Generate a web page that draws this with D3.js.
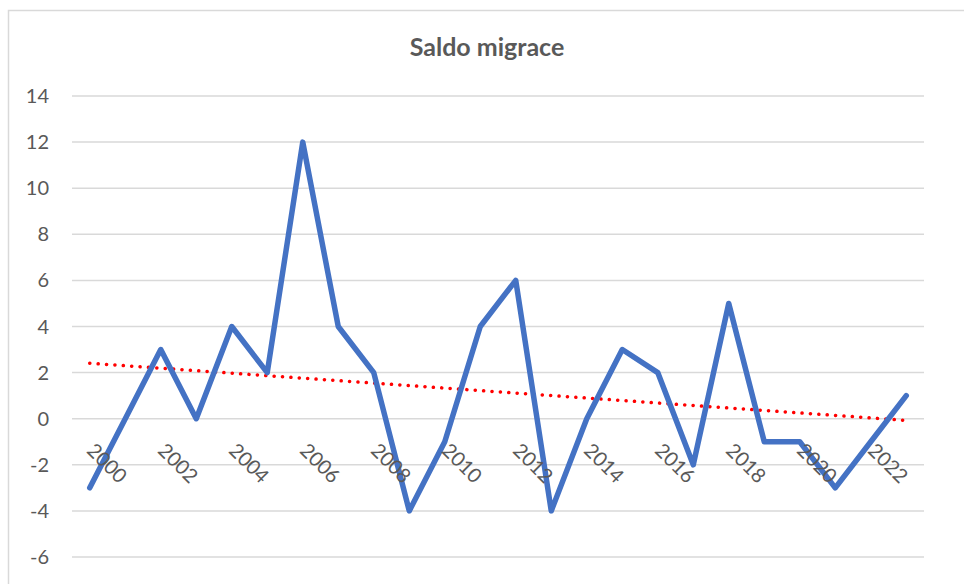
<!DOCTYPE html>
<html>
<head>
<meta charset="utf-8">
<script src="https://cdn.jsdelivr.net/npm/d3@7"></script>
<style>
  body { margin: 0; background: #fff; }
  text { font-family: Lato, "Open Sans", sans-serif; }
</style>
</head>
<body>
<div id="chart"></div>
<script>
// data
var years = d3.range(2000, 2024);
var saldo = [-3, 0, 3, 0, 4, 2, 12, 4, 2, -4, -1, 4, 6, -4, 0, 3, 2, -2, 5, -1, -1, -3, -1, 1];
var yTicks = [-6, -4, -2, 0, 2, 4, 6, 8, 10, 12, 14];
var xLabels = [2000, 2002, 2004, 2006, 2008, 2010, 2012, 2014, 2016, 2018, 2020, 2022];

var width = 964,
    height = 584;

var svg = d3.select("#chart")
  .append("svg")
    .attr("width", width)
    .attr("height", height);

// chart frame
svg.append("rect")
  .attr("x", 8.5).attr("y", 10.5)
  .attr("width", 960).attr("height", 580)
  .attr("fill", "none")
  .attr("stroke", "#d9d9d9")
  .attr("stroke-width", 1.5);

// title
svg.append("text")
  .attr("x", 487).attr("y", 56)
  .attr("text-anchor", "middle")
  .attr("font-size", 25)
  .attr("font-weight", "bold")
  .attr("fill", "#595959")
  .text("Saldo migrace");

// scales
var x = d3.scaleBand()
  .domain(years)
  .range([72, 924]);

var y = d3.scaleLinear()
  .domain([-6, 14])
  .range([557, 96]);

var cx = function(d) { return x(d) + x.bandwidth() / 2; };

// gridlines
svg.append("g").selectAll("line")
    .data(yTicks)
  .enter().append("line")
    .attr("x1", 72).attr("x2", 924)
    .attr("y1", function(d) { return y(d); })
    .attr("y2", function(d) { return y(d); })
    .attr("stroke", "#d9d9d9")
    .attr("stroke-width", 1.5);

// y labels
svg.append("g").selectAll("text")
    .data(yTicks)
  .enter().append("text")
    .attr("x", 49)
    .attr("y", function(d) { return y(d) + 7; })
    .attr("text-anchor", "end")
    .attr("font-size", 20)
    .attr("fill", "#595959")
    .text(function(d) { return d; });

// trendline (least squares)
var n = saldo.length;
var mx = d3.mean(d3.range(n)), my = d3.mean(saldo);
var slope = d3.sum(d3.range(n), function(i) { return (i - mx) * (saldo[i] - my); }) /
            d3.sum(d3.range(n), function(i) { return (i - mx) * (i - mx); });
var icpt = my - slope * mx;

svg.append("line")
  .attr("x1", cx(years[0])).attr("y1", y(icpt))
  .attr("x2", cx(years[n - 1])).attr("y2", y(icpt + slope * (n - 1)))
  .attr("stroke", "#ff0000")
  .attr("stroke-width", 3.5)
  .attr("stroke-linecap", "round")
  .attr("stroke-dasharray", "0.1 8.3");

// main line
var line = d3.line()
  .x(function(d, i) { return cx(years[i]); })
  .y(function(d) { return y(d); });

svg.append("path")
  .datum(saldo)
  .attr("d", line)
  .attr("fill", "none")
  .attr("stroke", "#4472c4")
  .attr("stroke-width", 5.5)
  .attr("stroke-linejoin", "round")
  .attr("stroke-linecap", "round");

// x labels, rotated
svg.append("g").selectAll("text")
    .data(xLabels)
  .enter().append("text")
    .attr("transform", function(d) {
      return "translate(" + (cx(d) - 4) + "," + (y(0) + 33) + ")rotate(45)";
    })
    .attr("font-size", 20)
    .attr("fill", "#595959")
    .text(function(d) { return d; });
</script>
</body>
</html>
